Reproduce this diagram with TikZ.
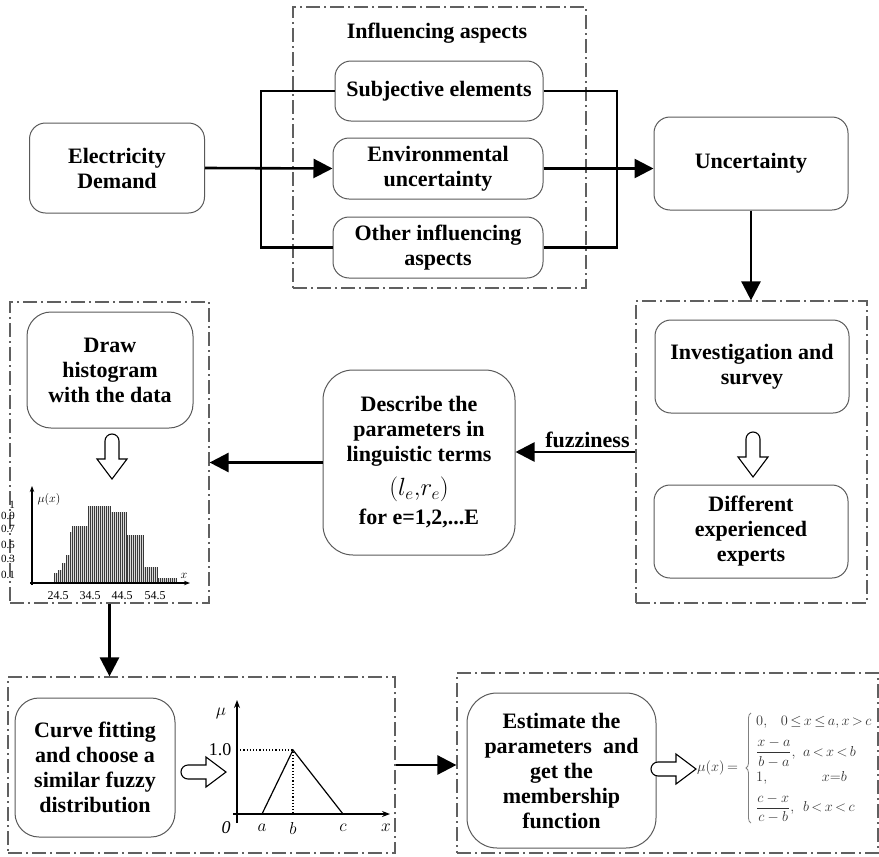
\documentclass[tikz,border=0pt]{standalone}
\usepackage{fontspec}
\setmainfont{Liberation Serif}
\usepackage{amsmath}
\usetikzlibrary{arrows.meta,decorations.pathreplacing}

\newcommand{\blockfont}{\fontsize{22}{25}\selectfont\bfseries}

\tikzset{
    block/.style={draw=gray!70!black, line width=1pt, rounded corners=16pt, align=center, font=\blockfont, inner sep=2pt},
    group/.style={draw=gray!75!black, line width=1.2pt, dash pattern=on 14pt off 4pt on 2pt off 4pt, inner sep=0pt},
    pics/hollow/.style={code={
        \draw[line width=1.1pt, fill=white] (7,-7) arc[start angle=270, end angle=90, radius=7]
            -- (25,7) -- (25,15) -- (45,0) -- (25,-15) -- (25,-7) -- cycle;
    }},
}

\begin{document}
\begin{tikzpicture}[x=1pt, y=-1pt]
    \useasboundingbox (0,0) rectangle (879,857);
    \begin{scope}[every node/.style={group}]
        \node (aspects) at (439.5,147.5) [minimum width=293pt, minimum height=281pt] {};
        \node (survey) at (751.5,452) [minimum width=231pt, minimum height=302pt] {};
        \node (histo) at (109.5,452.5) [minimum width=199pt, minimum height=301pt] {};
        \node (fitting) at (201.5,765) [minimum width=387pt, minimum height=176pt] {};
        \node (member) at (667.5,763) [minimum width=421pt, minimum height=180pt] {};
    \end{scope}
    \node (asptitle) at (437,33) [font=\blockfont] {Influencing aspects};
    \begin{scope}[every node/.style={block}]
        \node (demand) at (117,168) [minimum width=175pt, minimum height=90pt] {Electricity\\Demand};
        \node (subj) at (439,91) [minimum width=208pt, minimum height=60pt] {Subjective elements};
        \node (envir) at (438,168.5) [minimum width=210pt, minimum height=61pt] {Environmental\\uncertainty};
        \node (other) at (438,247.5) [minimum width=210pt, minimum height=61pt] {Other influencing\\aspects};
        \node (uncert) at (751,163.5) [minimum width=194pt, minimum height=93pt] {Uncertainty};
        \node (invest) at (752,366.5) [minimum width=194pt, minimum height=93pt] {Investigation and\\survey};
        \node (experts) at (751,531.5) [minimum width=194pt, minimum height=93pt] {Different\\experienced\\experts};
        \node (describe) at (419,462.5) [minimum width=192pt, minimum height=185pt, rounded corners=30pt]
            {Describe the\\parameters in\\linguistic terms\\[9pt]{\fontsize{24}{28}\selectfont\mdseries$(l_e{,}r_e)$}\\[4pt]for e=1,2,...E};
        \node (drawhist) at (110,370) [minimum width=166pt, minimum height=116pt, rounded corners=24pt] {Draw\\histogram\\with the data};
        \node (curve) at (95,767.5) [minimum width=160pt, minimum height=139pt, rounded corners=24pt] {Curve fitting\\and choose a\\similar fuzzy\\distribution};
        \node (estimate) at (561.5,770.5) [minimum width=189pt, minimum height=155pt, rounded corners=30pt] {Estimate the\\parameters \ and\\get the\\membership\\function};
    \end{scope}

    \coordinate (lbus) at (261,168);
    \coordinate (rbus) at (617,168);
    \draw[line width=2.6pt] (subj.west) -- (subj.west -| lbus) -- (other.west -| lbus) -- (other.west);
    \draw[line width=2.6pt] (subj.east) -- (subj.east -| rbus) -- (other.east -| rbus) -- (other.east);
    \begin{scope}[every edge/.style={draw, line width=2.6pt, -{Triangle[length=19pt,width=19pt]}}]
        \path (demand.east) edge (envir.west);
        \path (envir.east) edge (uncert.west |- envir.east);
        \path (uncert.south) edge (uncert.south |- survey.north);
        \path (survey.west) edge node[pos=0.4, above, font=\blockfont] {fuzziness} (describe.east |- survey.west);
        \path (describe.west) edge (histo.east |- describe.west);
        \path (histo.south) edge (histo.south |- fitting.north);
        \path (fitting.east) edge (member.west |- fitting.east);
    \end{scope}

    \pic (down1) [rotate=-90] at (112,434) {hollow};
    \pic (down2) [rotate=-90] at (753,432) {hollow};
    \pic (right1) at (181,772) {hollow};
    \pic (right2) at (651,769) {hollow};

    \foreach \a/\b/\t in {54/58/573, 58/62/570, 62/66/563, 66/70/555, 70/72/532, 72/88/526,
                          88/110/506, 110/127/512, 127/143/535, 143/158/567, 158/176/578} {
        \fill[gray!30] (\a,583) rectangle (\b,\t);
        \pgfmathsetmacro{\nx}{\a+2}
        \foreach \x in {\a,\nx,...,\b}
            \draw[gray!45!black, line width=0.9pt] (\x,583) -- (\x,\t);
    }
    \draw[line width=1.2pt, -{Stealth[length=6pt]}] (30,583) -- (190,583);
    \draw[line width=1.2pt, -{Stealth[length=6pt]}] (32,585) -- (32,486);
    \node (hmu) at (49,499) [font=\fontsize{12}{13}\selectfont] {$\mu(x)$};
    \node (hx) at (184,576) [font=\fontsize{12}{13}\selectfont] {$x$};
    \foreach \v/\y [count=\i] in {1/505, 0.9/516, 0.7/529, 0.5/545, 0.3/559, 0.1/575}
        \node (ytick\i) at (15,\y) [anchor=east, inner sep=0pt, font=\fontsize{11}{12}\selectfont] {\v};
    \foreach \v/\x [count=\i] in {24.5/58, 34.5/90, 44.5/122, 54.5/155}
        \node (xtick\i) at (\x,596) [font=\fontsize{12}{13}\selectfont] {\v};

    \draw[line width=1.2pt, -{Stealth[length=8pt]}] (237,823) -- (237,700);
    \draw[line width=1.2pt, -{Stealth[length=8pt]}] (233,814) -- (390,814);
    \draw[line width=1.2pt] (262,814) -- (293,750) -- (343,814);
    \draw[line width=1.2pt, dotted] (237,750) -- (293,750) -- (293,814);
    \begin{scope}[every node/.style={font=\fontsize{18}{20}\selectfont}]
        \node (mu) at (221,713) {$\mu$};
        \node (one) at (235,750) [anchor=east] {1.0};
        \node (zero) at (226,828) {\textit{0}};
        \node (la) at (262,828) {$a$};
        \node (lb) at (293,828) {$b$};
        \node (lc) at (343,828) {$c$};
        \node (lx) at (386,828) {$x$};
    \end{scope}

    \begin{scope}[every node/.style={inner sep=0pt, font=\fontsize{15}{18}\selectfont, text=black!80}]
        \node (mux) at (697,768) [anchor=west] {$\mu(x)\,{=}$};
        \node (cases) at (756,768) [anchor=west] {$\begin{array}{@{}l@{\ \ }l@{}}
            \multicolumn{2}{@{}l@{}}{0,\ \ \ 0\,{\le}\,x\,{\le}\,a, x\,{>}\,c}\\[7pt]
            \dfrac{x-a}{b-a}, & a\,{<}\,x\,{<}\,b\\[7pt]
            1, & \quad\ x{=}b\\[7pt]
            \dfrac{c-x}{c-b}, & b\,{<}\,x\,{<}\,c
        \end{array}$};
    \end{scope}
    \draw[gray, line width=0.8pt, decorate, decoration={brace, amplitude=5pt}]
        (cases.south west) ++(-5,0) -- ([xshift=-5pt]cases.north west);
\end{tikzpicture}
\end{document}
